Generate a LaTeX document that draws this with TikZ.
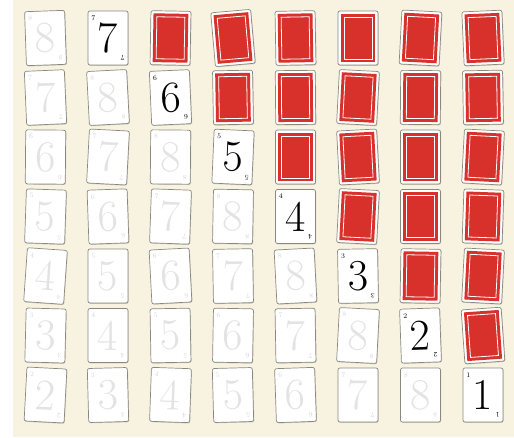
\documentclass[tikz,border=0pt]{standalone}
\definecolor{cream}{HTML}{F8F3E1}
\definecolor{cardred}{HTML}{D8302B}
\definecolor{frame}{HTML}{8A8880}
\colorlet{ink}{black}
\colorlet{faded}{black!11}
\colorlet{fadedsmall}{black!16}
\tikzset{
  cardframe/.style={draw=frame, fill=white, line width=0.7pt, rounded corners=2pt},
  cardshadow/.style={fill=black, opacity=0.18, rounded corners=2pt},
  backfill/.style={fill=cardred},
  backline/.style={draw=white, line width=0.8pt},
  bigdigit/.style={inner sep=0pt, font=\fontsize{44}{44}\selectfont},
  smalldigit/.style={inner sep=0pt, font=\fontsize{7}{7}\selectfont},
}
\newcommand\cardback[4]{%
  \begin{scope}[shift={(#1,#2)}, rotate=#3, nodes={transform shape}]
    \fill[cardshadow] (-19.4,-26.2) rectangle (20.6,27.8);
    \draw[cardframe] (-20,-27) rectangle (20,27);
    \fill[backfill] (-17.4,-24.4) rectangle (17.4,24.4);
    \draw[backline] (-14,-21) rectangle (14,21);
    \coordinate (#4) at (0,0);
  \end{scope}}
\newcommand\cardface[7]{%
  \begin{scope}[shift={(#1,#2)}, rotate=#3, nodes={transform shape}]
    \fill[cardshadow] (-19.4,-26.2) rectangle (20.6,27.8);
    \draw[cardframe] (-20,-27) rectangle (20,27);
    \node[bigdigit, text=#5] (#6) at (0,0) {#4};
    \node[smalldigit, text=#7, anchor=north west] (#6-tl) at (-16.8,-22.8) {#4};
    \node[smalldigit, text=#7, anchor=north west, rotate=180] (#6-br) at (16.8,22.8) {#4};
  \end{scope}}
\begin{document}
\begin{tikzpicture}[x=1pt, y=-1pt]
\useasboundingbox (0,0) rectangle (514,437);
\fill[cream] (13,0) rectangle (514,437);
\foreach \a [count=\i from 0] in {
   2,   0,  -1,   5,   1,   0,  -3, 2.5,
 2.5,   3, 2.5,   1, 0.5,  -3,-0.5,   1,
-0.5,  -3,-0.5,-2.5,   0,   3,   0,  -3,
  -2,   2,  -2,  -1,   0,  -3,   0,  -2,
  -4,   0,   3,   1,   3,   1,  -1,  -3,
-1.5,   0,   1,  -1,   1,  -3,   2,   4,
  -3, 1.5,  -2, 1.5,   2,   0,   0,   0}{
  \pgfmathtruncatemacro\r{int(\i/8)+1}
  \pgfmathtruncatemacro\c{mod(\i,8)+1}
  \pgfmathsetmacro\cx{45.5+62.5*(\c-1)}
  \pgfmathsetmacro\cy{38+59.5*(\r-1)}
  \ifnum\c>\numexpr\r+1\relax
    \cardback{\cx}{\cy}{\a}{b-\r-\c}
  \else
    \ifnum\c=\numexpr\r+1\relax
      \pgfmathtruncatemacro\n{8-\r}
      \cardface{\cx}{\cy}{\a}{\n}{ink}{f-\r-\c}{ink}
    \else
      \pgfmathtruncatemacro\n{8-\r+\c}
      \cardface{\cx}{\cy}{\a}{\n}{faded}{f-\r-\c}{fadedsmall}
    \fi
  \fi
}
\end{tikzpicture}
\end{document}
